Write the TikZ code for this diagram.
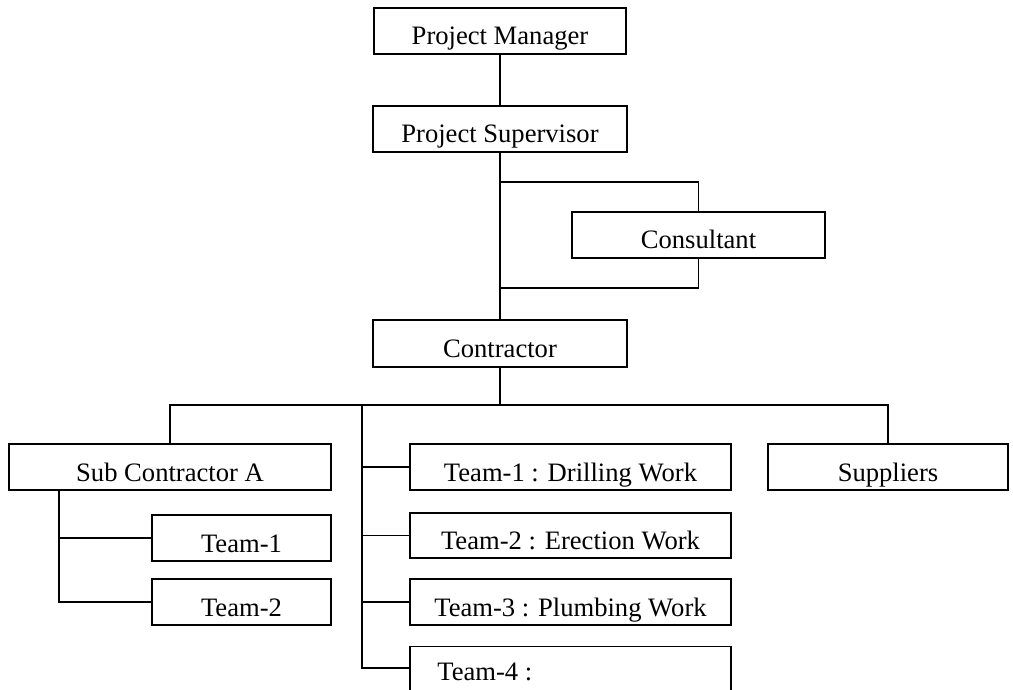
\documentclass[tikz,border=0pt]{standalone}
\usepackage{fontspec}
\setmainfont{Liberation Serif}

\tikzset{
	orgbox/.style={draw, line width=0.65pt, inner sep=0pt, minimum height=23pt, text height=14pt, text depth=0pt, font=\fontsize{13.3}{16}\selectfont},
	link/.style={line width=0.6pt},
	mainlink/.style={line width=1.1pt}
}

\begin{document}
\begin{tikzpicture}[x=0.5pt, y=-0.5pt]
			\clip (0,0) rectangle (1013,690);
			
			\node[orgbox, minimum width=126pt] (pm) at (500,31) {Project Manager};
			\node[orgbox, minimum width=127pt] (ps) at (500,129) {Project Supervisor};
			\node[orgbox, minimum width=126.5pt] (cons) at (698.5,235) {Consultant};
			\node[orgbox, minimum width=127pt, minimum height=23.5pt] (contr) at (500,343.5) {Contractor};
			
			\node[orgbox, minimum width=161pt] (subA) at (170,467) {Sub Contractor A};
			\node[orgbox, minimum width=89.5pt] (st1) at (241.5,538) {Team-1};
			\node[orgbox, minimum width=89.5pt] (st2) at (241.5,602) {Team-2};
			
			\node[orgbox, minimum width=160.5pt] (t1) at (570.5,467) {Team-1 : Drilling Work};
			\node[orgbox, minimum width=160.5pt, minimum height=22.5pt] (t2) at (570.5,535.5) {Team-2 : Erection Work};
			\node[orgbox, minimum width=160.5pt] (t3) at (570.5,602) {Team-3 : Plumbing Work};
			\node[orgbox, minimum width=160.5pt, minimum height=46pt, anchor=north] (t4) at (570.5,646) {};
			\node[font=\fontsize{13.3}{16}\selectfont, inner sep=0pt, anchor=base west] (t4lbl) at (437,680) {Team-4 :};
			
			\node[orgbox, minimum width=120pt] (sup) at (888,467) {Suppliers};
			
			\coordinate (cj1) at (500,182);
			\coordinate (cj2) at (500,288);
			\coordinate (bus) at (500,405);
			\coordinate (spine) at (362,405);
			\coordinate (subsp) at (59,490);
			\coordinate (t4in) at (410,668);
			
			\draw[link] (pm) -- (ps);
			\draw[mainlink] (ps) -- (contr);
			\draw[link] (cj1) -| (cons.north);
			\draw[link] (cons.south) |- (cj2);
			
			\draw[link] (subA.north) |- (bus) -| (sup.north);
			\draw[mainlink] (contr.south) -- (bus) -- (spine) |- (t4in);
			
			\draw[link] (spine) |- (t1.west);
			\draw[link] (spine) |- (t2.west);
			\draw[link] (spine) |- (t3.west);
			
			\draw[link] (subsp) |- (st1.west);
			\draw[link] (subsp) |- (st2.west);
		\end{tikzpicture}
\end{document}
